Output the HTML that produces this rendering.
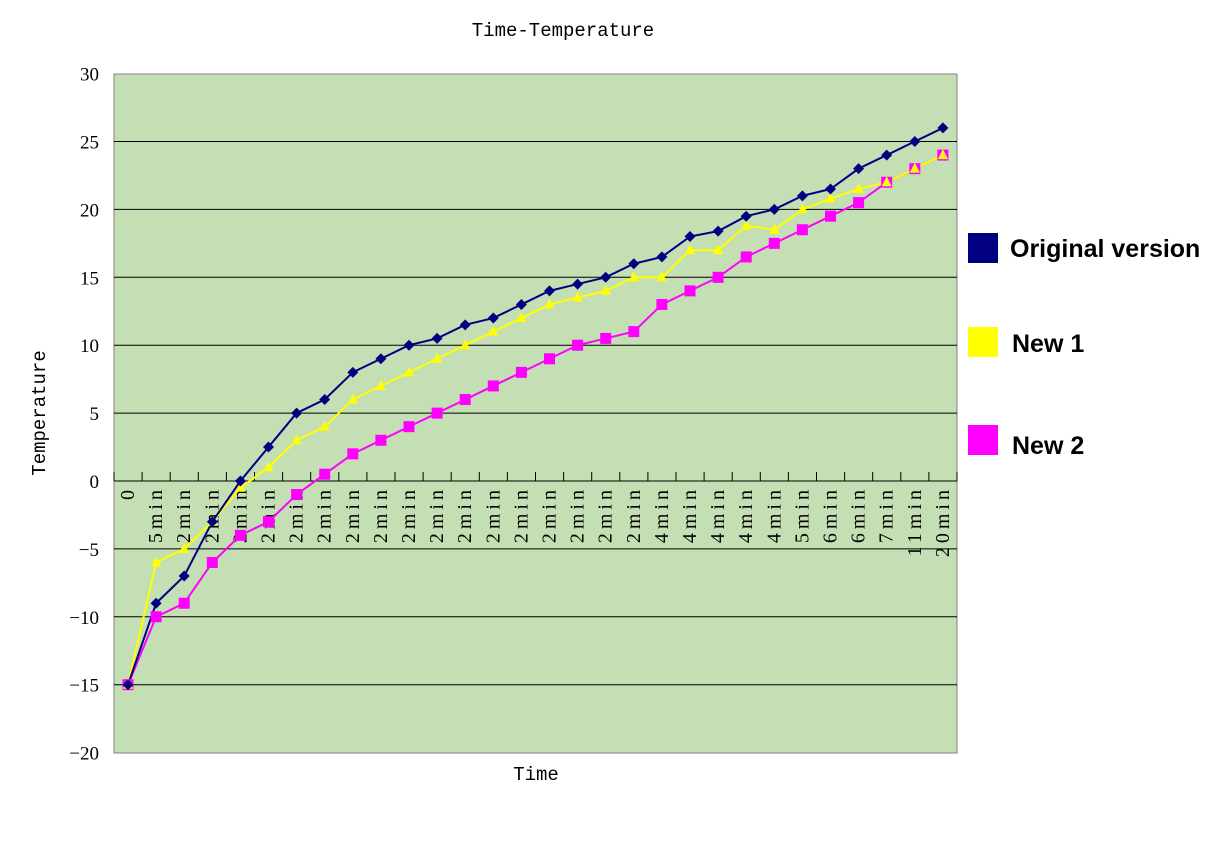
<!DOCTYPE html>
<html><head><style>body{margin:0;background:#fff}</style></head><body>
<svg width="1229" height="854" xmlns="http://www.w3.org/2000/svg">
<rect x="0" y="0" width="1229" height="854" fill="#fff"/>
<rect x="114" y="74" width="843" height="679" fill="#c4dfb4" stroke="#808080" stroke-width="1"/>
<g id="grid" stroke="#000" stroke-width="1"></g>
<g id="ticks" stroke="#000" stroke-width="1"></g>
<g id="ylab" font-family="Liberation Serif, serif" font-size="19" text-anchor="end"></g>
<g id="xlab" font-family="Liberation Serif, serif" font-size="20" text-anchor="end" letter-spacing="4"></g>
<g id="series"></g>
<text x="563" y="36" font-family="Liberation Mono, monospace" font-size="19" text-anchor="middle">Time-Temperature</text>
<text x="536" y="780" font-family="Liberation Mono, monospace" font-size="19" text-anchor="middle">Time</text>
<text transform="translate(45,413) rotate(-90)" font-family="Liberation Mono, monospace" font-size="19" text-anchor="middle">Temperature</text>
<g font-family="Liberation Sans, sans-serif" font-size="25" font-weight="bold">
<rect x="968" y="233" width="30" height="30" fill="#000080"/><text x="1010" y="257">Original version</text>
<rect x="968" y="327" width="30" height="30" fill="#ffff00"/><text x="1012" y="352">New 1</text>
<rect x="968" y="425" width="30" height="30" fill="#ff00ff"/><text x="1012" y="454">New 2</text>
</g>
</svg>
<script>
const ns="http://www.w3.org/2000/svg";
function el(p,t,a,txt){const e=document.createElementNS(ns,t);for(const k in a)e.setAttribute(k,a[k]);if(txt!==undefined)e.textContent=txt;document.getElementById(p).appendChild(e);return e;}
const Y=v=>481-v*13.58, X=i=>128+i*28.1;
for(let v=-15;v<=25;v+=5){el('grid','line',{x1:114,x2:957,y1:Y(v),y2:Y(v)});}
for(let v=-20;v<=30;v+=5){el('ylab','text',{x:99,y:Y(v)+7},v<0?'\u2212'+(-v):v);}
for(let i=0;i<=30;i++){const x=114+i*28.1;el('ticks','line',{x1:x,x2:x,y1:472,y2:481});}
const labs=['0','5min'];for(let i=0;i<17;i++)labs.push('2min');for(let i=0;i<5;i++)labs.push('4min');labs.push('5min','6min','6min','7min','11min','20min');
labs.forEach((l,i)=>el('xlab','text',{transform:`translate(${X(i)+6},486) rotate(-90)`},l));
const A=[-15,-9,-7,-3,0,2.5,5,6,8,9,10,10.5,11.5,12,13,14,14.5,15,16,16.5,18,18.4,19.5,20,21,21.5,23,24,25,26];
const B=[-15,-6,-5,-3,-0.5,1,3,4,6,7,8,9,10,11,12,13,13.5,14,15,15,17,17,18.8,18.5,20,20.8,21.5,22,23,24];
const C=[-15,-10,-9,-6,-4,-3,-1,0.5,2,3,4,5,6,7,8,9,10,10.5,11,13,14,15,16.5,17.5,18.5,19.5,20.5,22,23,24];
function line(d,c){el('series','polyline',{points:d.map((v,i)=>X(i)+','+Y(v)).join(' '),fill:'none',stroke:c,'stroke-width':2});}
line(C,'#ff00ff');line(B,'#ffff00');line(A,'#000080');
C.forEach((v,i)=>el('series','rect',{x:X(i)-5.5,y:Y(v)-5.5,width:11,height:11,fill:'#ff00ff'}));
B.forEach((v,i)=>el('series','polygon',{points:`${X(i)},${Y(v)-6} ${X(i)-5},${Y(v)+4} ${X(i)+5},${Y(v)+4}`,fill:'#ffff00'}));
A.forEach((v,i)=>el('series','polygon',{points:`${X(i)},${Y(v)-5.5} ${X(i)+5.5},${Y(v)} ${X(i)},${Y(v)+5.5} ${X(i)-5.5},${Y(v)}`,fill:'#000080'}));
</script>
</body></html>
